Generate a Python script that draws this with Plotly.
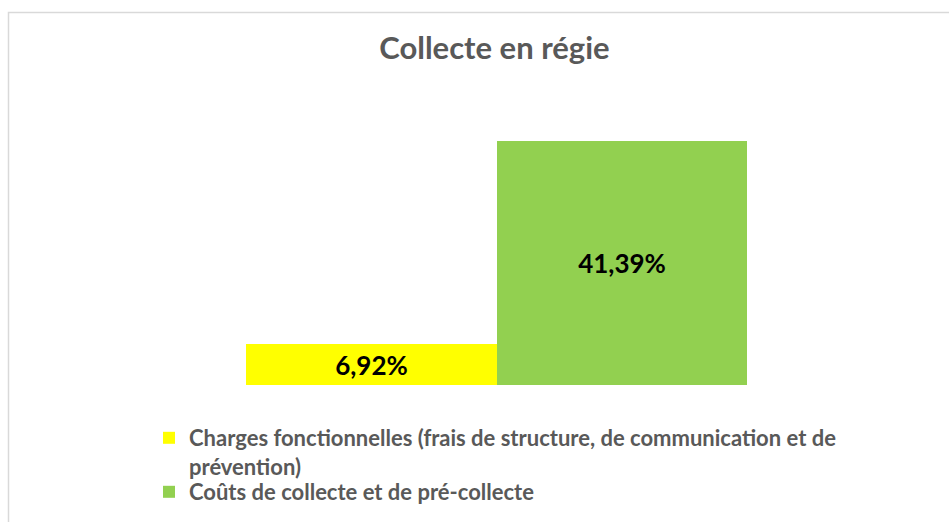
import plotly.graph_objects as go

categories = ["Charges fonctionnelles (frais de structure, de communication et de<br>prévention)",
              "Coûts de collecte et de pré-collecte"]
values = [6.92, 41.39]
labels = ["6,92%", "41,39%"]
colors = ["#FFFF00", "#92D050"]

W, H = 949, 522
L, R, T, B = 246, 949 - 747, 120, 522 - 385
pw, ph = W - L - R, H - T - B

FONT = "Lato"
legends = ["legend", "legend2"]

fig = go.Figure()
for i, (name, v, lab, c) in enumerate(zip(categories, values, labels, colors)):
    fig.add_trace(go.Bar(
        x=[i], y=[v], name=name, text=[lab], marker=dict(color=c, line=dict(width=0)),
        textposition="inside", insidetextanchor="middle", textangle=0,
        textfont=dict(family=FONT, size=26, color="#000000", weight="bold"),
        width=1, hoverinfo="skip", legend=legends[i],
    ))

def px_x(p):
    return (p - L) / pw

def px_y(p):
    return (H - B - p) / ph

leg_font = dict(family=FONT, size=22, color="#595959", weight="bold")

fig.update_layout(
    width=W, height=H,
    margin=dict(l=L, r=R, t=T, b=B, autoexpand=False),
    paper_bgcolor="white", plot_bgcolor="white",
    barmode="overlay", bargap=0,
    title=dict(text="<b>Collecte en régie</b>", x=0.521, xanchor="center",
               y=1 - 48 / H, yanchor="middle",
               font=dict(family=FONT, size=31, color="#595959")),
    xaxis=dict(range=[-0.5, 1.5], visible=False, fixedrange=True),
    yaxis=dict(range=[0, 45], visible=False, fixedrange=True),
    showlegend=True,
    legend=dict(x=px_x(149), y=px_y(417), xanchor="left", yanchor="top",
                orientation="v", valign="top", font=leg_font,
                itemwidth=30, bgcolor="rgba(0,0,0,0)"),
    legend2=dict(x=px_x(149), y=px_y(471), xanchor="left", yanchor="top",
                 orientation="v", valign="top", font=leg_font,
                 itemwidth=30, bgcolor="rgba(0,0,0,0)"),
    shapes=[dict(type="rect", xref="paper", yref="paper",
                 x0=px_x(8.5), x1=px_x(960), y0=px_y(540), y1=px_y(12.5),
                 line=dict(color="#D9D9D9", width=1.5), layer="below")],
)

fig.write_html("out.html", config={"displayModeBar": False},
               post_script="document.body.style.margin='0';")
